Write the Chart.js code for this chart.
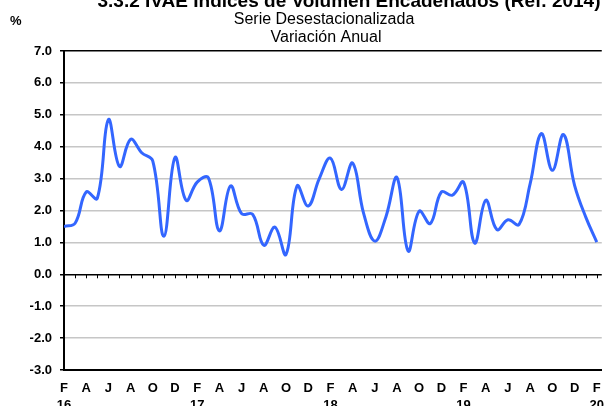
<!DOCTYPE html>
<html lang="es">
<head>
<meta charset="UTF-8">
<title>IVAE Variación Anual</title>
<script src="https://cdn.jsdelivr.net/npm/chart.js"></script>
<style>
  html, body { margin: 0; padding: 0; background: #fff; }
  #wrap { width: 606px; height: 406px; }
</style>
</head>
<body>
<div id="wrap"><canvas id="ivaeChart"></canvas></div>
<script>
// months Feb 2016 .. Feb 2020 (Spanish initials)
const months = ['F','M','A','M','J','J','A','S','O','N','D','E',
                'F','M','A','M','J','J','A','S','O','N','D','E',
                'F','M','A','M','J','J','A','S','O','N','D','E',
                'F','M','A','M','J','J','A','S','O','N','D','E',
                'F'];
const years = { 0: '16', 12: '17', 24: '18', 36: '19', 48: '20' };

const variacion = [1.50, 1.60, 2.58, 2.38, 4.85, 3.38, 4.23, 3.81, 3.55, 1.19, 3.66, 2.32,
                   2.89, 3.03, 1.36, 2.77, 1.90, 1.88, 0.91, 1.48, 0.62, 2.77, 2.14, 3.00,
                   3.64, 2.66, 3.49, 1.90, 1.04, 1.80, 3.03, 0.73, 1.98, 1.59, 2.58, 2.48,
                   2.89, 0.98, 2.32, 1.40, 1.71, 1.56, 2.84, 4.41, 3.26, 4.38, 2.79, 1.80,
                   1.01];

const title = '3.3.2 IVAE Índices de Volumen Encadenados (Ref. 2014)';
const subtitles = ['Serie Desestacionalizada', 'Variación Anual'];
const yUnit = '%';

const FONT = '"Liberation Sans", Arial, sans-serif';

// headings + month tick marks on the zero line
const decor = {
    id: 'decor',
    afterDatasetsDraw(chart) {
        const ctx = chart.ctx;
        const x = chart.scales.x, y = chart.scales.y;
        const y0 = y.getPixelForValue(0);
        ctx.save();
        ctx.strokeStyle = '#000';
        ctx.lineWidth = 1;
        for (let i = 1; i < months.length; i++) {
            const px = Math.round(x.getPixelForValue(i)) + 0.5;
            ctx.beginPath();
            ctx.moveTo(px, y0);
            ctx.lineTo(px, y0 + 4);
            ctx.stroke();
        }
        ctx.restore();
    },
    afterDraw(chart) {
        const ctx = chart.ctx;
        ctx.save();
        ctx.fillStyle = '#000';
        ctx.textAlign = 'center';
        ctx.textBaseline = 'alphabetic';
        ctx.font = 'bold 19px ' + FONT;
        ctx.fillText(title, 349, 7);
        ctx.font = '16px ' + FONT;
        ctx.fillText(subtitles[0], 324, 24);
        ctx.fillText(subtitles[1], 326, 42);
        ctx.font = 'bold 13px ' + FONT;
        ctx.textAlign = 'left';
        ctx.fillText(yUnit, 10, 25);
        ctx.restore();
    }
};

const ctx = document.getElementById('ivaeChart').getContext('2d');
new Chart(ctx, {
    type: 'line',
    data: {
        datasets: [{
            data: variacion.map((v, i) => ({ x: i, y: v })),
            borderColor: '#3366ff',
            borderWidth: 3,
            pointRadius: 0,
            tension: 0.4,
            fill: false
        }]
    },
    options: {
        responsive: true,
        maintainAspectRatio: false,
        animation: false,
        layout: { padding: { top: 51, left: 0, right: 0, bottom: 0 } },
        plugins: {
            legend: { display: false },
            tooltip: { enabled: false }
        },
        scales: {
            x: {
                type: 'linear',
                min: 0,
                max: 48.45,
                afterFit: (s) => { s.height = 36; },
                border: { color: '#000', width: 2 },
                grid: { display: false },
                ticks: {
                    stepSize: 2,
                    includeBounds: false,
                    autoSkip: false,
                    maxRotation: 0,
                    padding: 2,
                    color: '#000',
                    font: { family: FONT, size: 13, weight: 'bold', lineHeight: 1.3 },
                    callback: (v) => {
                        const m = months[v];
                        return years[v] ? [m, years[v]] : m;
                    }
                }
            },
            y: {
                min: -3,
                max: 7,
                afterFit: (s) => { s.width = 64; },
                border: { color: '#000', width: 2 },
                grid: {
                    color: (c) => ([0, 7, -3].includes(c.tick.value) ? '#000' : '#c6c6c6'),
                    lineWidth: 1.5,
                    tickColor: '#000',
                    tickLength: 4
                },
                ticks: {
                    stepSize: 1,
                    padding: 8,
                    color: '#000',
                    font: { family: FONT, size: 13, weight: 'bold' },
                    callback: (v) => v.toFixed(1)
                }
            }
        }
    },
    plugins: [decor]
});
</script>
</body>
</html>
